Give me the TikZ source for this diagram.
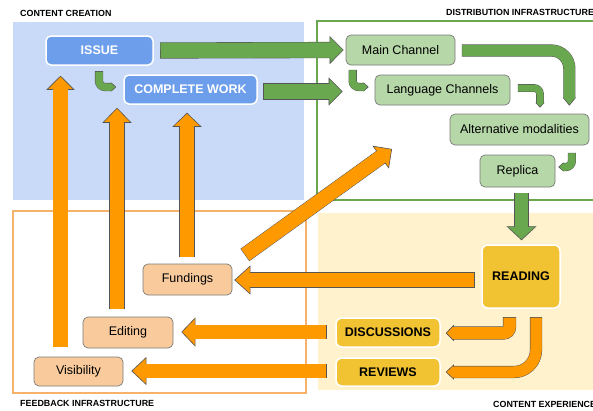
\documentclass[tikz,border=0pt]{standalone}
\usepackage{fontspec}
\setmainfont{Liberation Sans}
\usetikzlibrary{arrows.meta,calc}
\definecolor{bluebg}{HTML}{C9DAF8}
\definecolor{bluenodec}{HTML}{6D9EEB}
\definecolor{greenarr}{HTML}{6AA84F}
\definecolor{greennodec}{HTML}{B6D7A8}
\definecolor{orangearr}{HTML}{FF9900}
\definecolor{peach}{HTML}{F9CB9C}
\definecolor{yellowbg}{HTML}{FFF2CC}
\definecolor{yellownodec}{HTML}{F1C232}
\definecolor{orangeframe}{HTML}{F6B26B}
\definecolor{arrowedge}{HTML}{555555}
\definecolor{nodeedge}{HTML}{7A7A7A}
\newcommand\blockarrow[5]{%
  \draw[line width=#2pt+1.2pt, draw=arrowedge, shorten >=#4pt-0.5pt, shorten <=-0.6pt] #5;
  \draw[line width=#2pt, draw=#1, -{Triangle[length=#4pt, width=#3pt, line width=0.6pt, color=arrowedge, fill=#1]}] #5;
  \draw[line width=#2pt, draw=#1, shorten >=#4pt-1.2pt] #5;
}
\begin{document}
\begin{tikzpicture}[x=1pt,y=-1pt,
  nodefont/.style={font=\fontsize{12.5pt}{15pt}\selectfont},
  boldfont/.style={font=\fontsize{12.5pt}{15pt}\selectfont\bfseries},
  sectionlabel/.style={font=\fontsize{8.9pt}{10pt}\selectfont\bfseries, anchor=west, inner sep=0pt},
  bluebox/.style={boldfont, draw=white, line width=1.5pt, fill=bluenodec, text=white, rounded corners=5pt, inner sep=0pt},
  greenbox/.style={nodefont, draw=nodeedge, line width=0.7pt, fill=greennodec, rounded corners=5pt, inner sep=0pt},
  yellowbox/.style={boldfont, draw=white, line width=1.5pt, fill=yellownodec, text=black, rounded corners=6pt, inner sep=0pt},
  peachbox/.style={nodefont, draw=nodeedge, line width=0.7pt, fill=peach, rounded corners=5pt, inner sep=0pt}
]
\useasboundingbox (0,0) rectangle (593,410);
\clip (0,0) rectangle (593,410);
\fill[white] (0,0) rectangle (593,410);

% areas
\fill[bluebg] (13,22) rectangle (304,200);
\fill[yellowbg] (318,213) rectangle (600,390);
\draw[greenarr, line width=2pt] (317,21) rectangle (610,200);
\draw[orangeframe, line width=1.5pt] (13,211) rectangle (306,393);

% section labels
\node[sectionlabel] (lcc) at (20,13) {CONTENT CREATION};
\node[sectionlabel] (ldi) at (446,12) {DISTRIBUTION INFRASTRUCTURE};
\node[sectionlabel] (lfi) at (20,403.5) {FEEDBACK INFRASTRUCTURE};
\node[sectionlabel] (lce) at (493,404.5) {CONTENT EXPERIENCE};

% nodes
\node[bluebox, minimum width=107pt, minimum height=29pt] (issue) at (99.5,50.5) {ISSUE};
\node[bluebox, minimum width=133pt, minimum height=29pt] (cw) at (190.5,89.5) {COMPLETE WORK};
\node[greenbox, minimum width=109pt, minimum height=30pt] (main) at (400.5,50) {Main Channel};
\node[greenbox, minimum width=135pt, minimum height=30pt] (lang) at (442.5,90) {Language Channels};
\node[greenbox, minimum width=139pt, minimum height=31pt] (alt) at (519.5,129.5) {Alternative modalities};
\node[greenbox, minimum width=75pt, minimum height=32pt] (rep) at (517.5,171) {Replica};
\node[yellowbox, minimum width=78pt, minimum height=63pt] (read) at (521,276.5) {READING};
\node[yellowbox, minimum width=104pt, minimum height=29pt] (disc) at (388,332.5) {DISCUSSIONS};
\node[yellowbox, minimum width=104pt, minimum height=28pt] (rev) at (388,372) {REVIEWS};
\node[peachbox, minimum width=89pt, minimum height=31pt] (fund) at (187.5,279.5) {Fundings};
\node[peachbox, minimum width=90pt, minimum height=31pt] (edit) at (128,332.5) {Editing};
\node[peachbox, minimum width=89pt, minimum height=29pt] (vis) at (78.5,371.5) {Visibility};
\coordinate (distgoal) at (392,149);

% green arrows
\blockarrow{greenarr}{15}{28}{14}{($(issue.east)+(7,0)$) -- ($(main.west)+(-2,0)$)}
\blockarrow{greenarr}{15}{28}{14}{($(cw.east)+(6,2)$) -- ($(lang.west)+(-32,1.5)$)}
\blockarrow{greenarr}{7}{9}{5}{($(issue.south)+(-0.5,6)$) [rounded corners=6pt] |- ($(cw.west)+(-7,-2.5)$)}
\blockarrow{greenarr}{7}{9}{5}{($(main.south west)+(7,5)$) [rounded corners=6pt] |- ($(lang.west)+(-6,-3)$)}
\blockarrow{greenarr}{6.5}{9}{5}{($(lang.east)+(8,-2)$) [rounded corners=6pt] -| ($(alt.north)+(20.5,-6)$)}
\blockarrow{greenarr}{11}{13}{8}{($(main.east)+(7,0.5)$) [rounded corners=18pt] -| ($(alt.north east)+(-20,-8)$)}
\blockarrow{greenarr}{7}{9}{5}{($(alt.south east)+(-17.5,8)$) [rounded corners=6pt] |- ($(rep.east)+(3,-4)$)}
\blockarrow{greenarr}{13}{30}{14}{($(rep.south)+(4,6)$) -- ($(read.north)+(0.5,-4)$)}

% orange arrows
\blockarrow{orangearr}{14.5}{28}{14}{($(vis.north)+(-18,-10)$) -- ($(issue.south)+(-39,10)$)}
\blockarrow{orangearr}{14}{29}{15}{($(edit.north)+(-11,-8)$) -- ($(cw.south)+(-73.5,3)$)}
\blockarrow{orangearr}{14}{29}{14}{($(fund.north)+(-0.5,-7)$) -- ($(cw.south)+(-3.5,8)$)}
\blockarrow{orangearr}{14}{28}{14}{($(fund.north east)+(13,-9)$) -- (distgoal)}
\blockarrow{orangearr}{14}{29}{16}{($(read.west)+(-7,3.5)$) -- ($(fund.east)+(2,0.5)$)}
\blockarrow{orangearr}{13.5}{29}{14}{($(disc.west)+(-9,-0.5)$) -- ($(edit.east)+(8,-0.5)$)}
\blockarrow{orangearr}{13.5}{28}{15}{($(rev.west)+(-9,-1)$) -- ($(vis.east)+(8,-0.5)$)}
\blockarrow{orangearr}{12}{16}{8}{($(read.south)+(-11.5,9)$) [rounded corners=6pt] |- ($(disc.east)+(5,0.5)$)}
\blockarrow{orangearr}{11}{15}{8}{($(read.south)+(15,9)$) [rounded corners=22pt] |- ($(rev.east)+(5,0)$)}
\end{tikzpicture}
\end{document}
